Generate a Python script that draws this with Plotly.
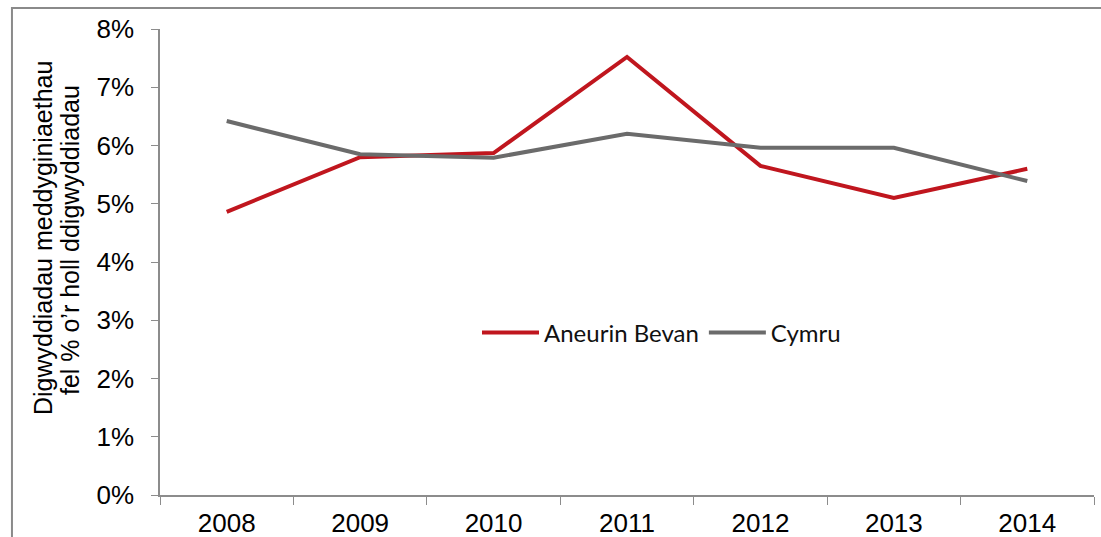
import plotly.graph_objects as go

years = ["2008", "2009", "2010", "2011", "2012", "2013", "2014"]
aneurin_bevan = [4.86, 5.80, 5.87, 7.52, 5.65, 5.10, 5.60]
cymru = [6.42, 5.85, 5.79, 6.20, 5.96, 5.96, 5.39]
series_names = ["Aneurin Bevan", "Cymru"]
y_ticks = [0, 1, 2, 3, 4, 5, 6, 7, 8]
y_tick_labels = [f"{v}%" for v in y_ticks]
title_lines = ["Digwyddiadau meddyginiaethau", "fel % o’r holl ddigwyddiadau"]

fig = go.Figure()
fig.add_trace(go.Scatter(x=years, y=aneurin_bevan, name=series_names[0], mode="lines",
                         line=dict(color="#C0161E", width=4)))
fig.add_trace(go.Scatter(x=years, y=cymru, name=series_names[1], mode="lines",
                         line=dict(color="#6B6B6B", width=4)))

fig.update_layout(
    width=1101, height=537,
    margin=dict(l=160, r=7, t=29, b=42, autoexpand=False),
    paper_bgcolor="white", plot_bgcolor="white",
    font=dict(family="Liberation Sans, Arial", size=26, color="black"),
    showlegend=True,
    legend=dict(orientation="h", x=0.3394, y=0.348, xanchor="left", yanchor="middle",
                font=dict(family="Lato, Open Sans", size=24, color="#111111"),
                bgcolor="rgba(0,0,0,0)", itemwidth=57, tracegroupgap=0),
    xaxis=dict(type="category", showline=True, linecolor="#8C8C8C", linewidth=1.5,
               ticks="outside", tickson="boundaries", ticklen=8, tickcolor="#8C8C8C",
               ticklabelstandoff=4, automargin=False,
               showgrid=False, zeroline=False, range=[-0.5, 6.5],
               tickfont=dict(size=26)),
    yaxis=dict(range=[0, 8], tickvals=y_ticks, ticktext=y_tick_labels,
               showline=True, linecolor="#8C8C8C", linewidth=1.5,
               ticks="outside", ticklen=7, tickcolor="#8C8C8C", ticklabelstandoff=12,
               automargin=False,
               showgrid=False, zeroline=False, tickfont=dict(size=26)),
    shapes=[dict(type="rect", xref="paper", yref="paper",
                 x0=-0.1585, y0=-0.2, x1=1.05, y1=1.045,
                 line=dict(color="#8A8A8A", width=2), fillcolor="rgba(0,0,0,0)", layer="below")],
    annotations=[
        dict(text=title_lines[0], xref="paper", yref="paper", x=-0.1252, y=0.5515,
             xanchor="center", yanchor="middle", textangle=-90, showarrow=False,
             font=dict(size=25, family="Liberation Sans, Arial")),
        dict(text=title_lines[1], xref="paper", yref="paper", x=-0.0964, y=0.547,
             xanchor="center", yanchor="middle", textangle=-90, showarrow=False,
             font=dict(size=25, family="Liberation Sans, Arial")),
    ],
)

fig.write_html("out.html")
